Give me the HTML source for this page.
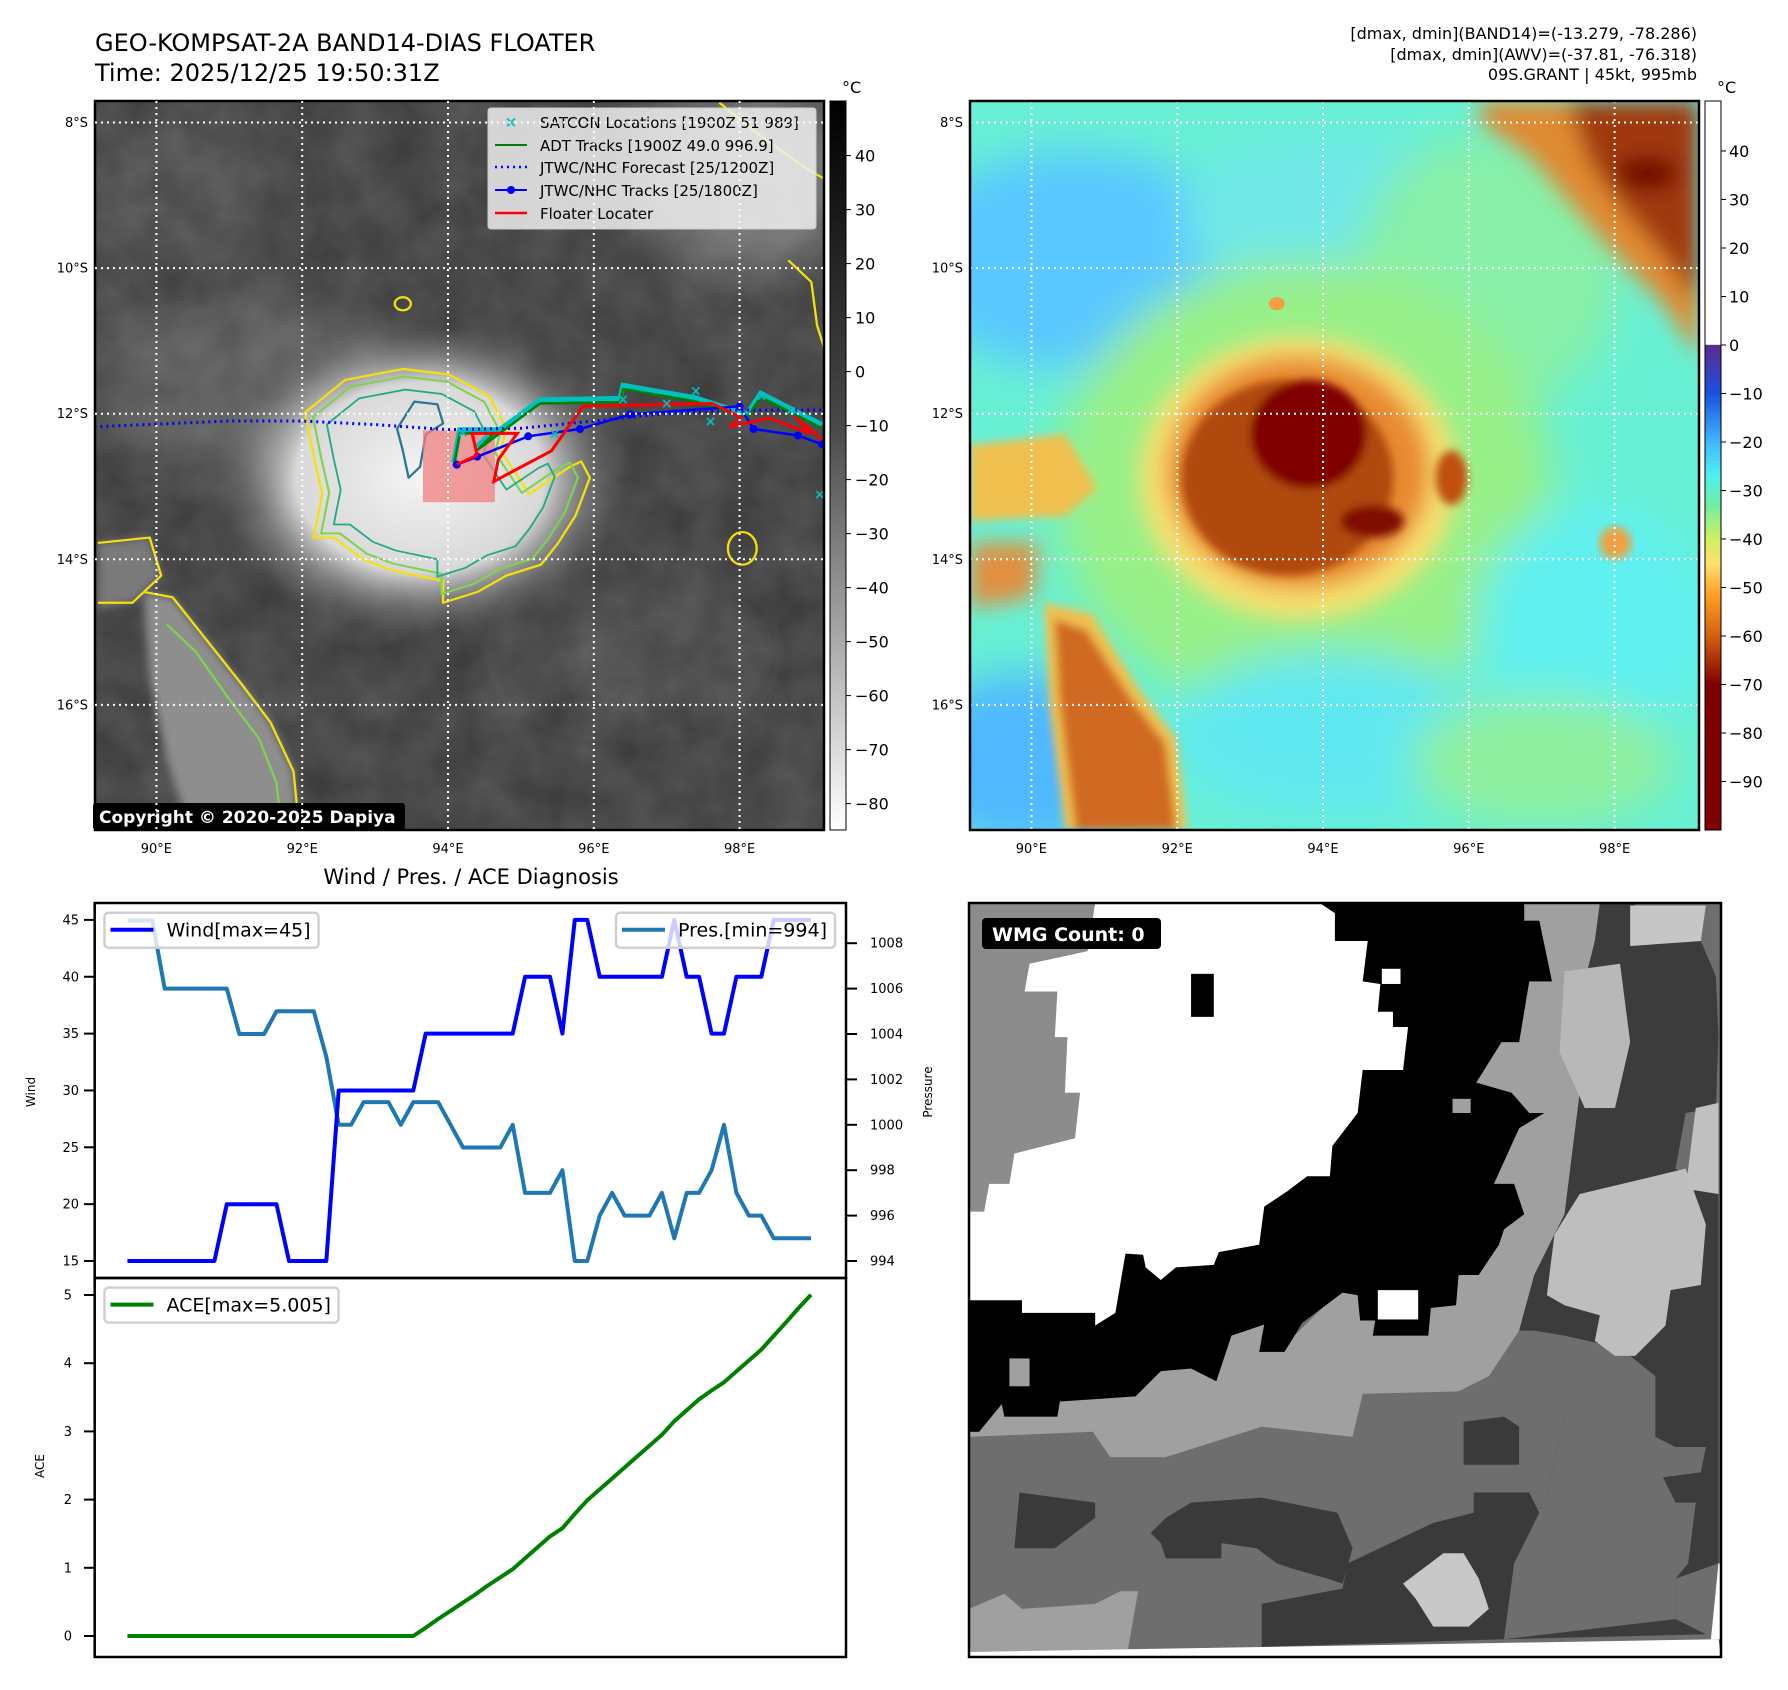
<!DOCTYPE html>
<html><head><meta charset="utf-8">
<style>
html,body{margin:0;padding:0;background:#fff;}
body{width:1788px;height:1690px;position:relative;overflow:hidden;font-family:"DejaVu Sans","Liberation Sans",sans-serif;}
.abs{position:absolute;}
</style></head>
<body>
<svg id="page" class="abs" style="left:0;top:0" width="1788" height="1690" viewBox="0 0 1788 1690" font-family="DejaVu Sans, Liberation Sans, sans-serif">
<defs>
  <filter id="b8"><feGaussianBlur stdDeviation="8"/></filter>
  <filter id="b20"><feGaussianBlur stdDeviation="20"/></filter>
  <filter id="b40"><feGaussianBlur stdDeviation="40"/></filter>
  <filter id="tex" x="0" y="0" width="100%" height="100%">
    <feTurbulence type="fractalNoise" baseFrequency="0.012" numOctaves="3" seed="4"/>
    <feColorMatrix type="matrix" values="0 0 0 0 1  0 0 0 0 1  0 0 0 0 1  0 0 0 0.35 -0.05"/>
  </filter>
  <linearGradient id="cbGray" x1="0" y1="0" x2="0" y2="1">
    <stop offset="0" stop-color="#000"/><stop offset="0.45" stop-color="#4a4a4a"/><stop offset="1" stop-color="#fff"/>
  </linearGradient>
  <linearGradient id="cbColor" x1="0" y1="0" x2="0" y2="1">
    <stop offset="0" stop-color="#fff"/><stop offset="0.334" stop-color="#fff"/>
    <stop offset="0.335" stop-color="#5b2a8e"/><stop offset="0.401" stop-color="#1a50e0"/>
    <stop offset="0.468" stop-color="#40b8ff"/><stop offset="0.515" stop-color="#50f0f0"/>
    <stop offset="0.555" stop-color="#70f0a0"/><stop offset="0.601" stop-color="#d0f060"/>
    <stop offset="0.635" stop-color="#ffe070"/><stop offset="0.681" stop-color="#ff9a20"/>
    <stop offset="0.735" stop-color="#d06010"/><stop offset="0.80" stop-color="#800000"/>
    <stop offset="1" stop-color="#800000"/>
  </linearGradient>
  <radialGradient id="stormGray" cx="0.5" cy="0.5" r="0.5">
    <stop offset="0" stop-color="#f4f4f4"/><stop offset="0.6" stop-color="#d8d8d8"/><stop offset="1" stop-color="#6a6a6a" stop-opacity="0"/>
  </radialGradient>
</defs>

<!-- Titles -->
<text x="95" y="51" font-size="24">GEO-KOMPSAT-2A BAND14-DIAS FLOATER</text>
<text x="95" y="81" font-size="24">Time: 2025/12/25 19:50:31Z</text>
<g font-size="16" text-anchor="end">
  <text x="1697" y="39">[dmax, dmin](BAND14)=(-13.279, -78.286)</text>
  <text x="1697" y="60">[dmax, dmin](AWV)=(-37.81, -76.318)</text>
  <text x="1697" y="80">09S.GRANT | 45kt, 995mb</text>
</g>

<!-- LEFT MAP -->
<svg x="95" y="101" width="729" height="729" viewBox="165 187 1267 1341" preserveAspectRatio="none">
  <rect x="165" y="187" width="1267" height="1341" fill="#3e3e3e"/>
  <g filter="url(#b40)">
    <ellipse cx="420" cy="700" rx="260" ry="160" fill="#585858"/>
    <ellipse cx="300" cy="350" rx="200" ry="120" fill="#4c4c4c"/>
    <ellipse cx="1300" cy="330" rx="180" ry="180" fill="#707070"/>
    <ellipse cx="1100" cy="1200" rx="200" ry="100" fill="#4a4a4a"/>
  </g>
  <rect x="165" y="187" width="1267" height="1341" filter="url(#tex)" opacity="0.5"/>
  <polygon filter="url(#b8)" fill="#8e8e8e" points="250,1090 300,1100 360,1180 420,1260 470,1330 510,1420 520,1528 330,1528 290,1400 260,1250"/>
  <polygon filter="url(#b8)" fill="#7a7a7a" points="170,1000 260,990 280,1060 230,1110 170,1120"/>
  <ellipse cx="730" cy="880" rx="360" ry="290" fill="url(#stormGray)"/>
  <g fill="none" stroke-width="4" stroke-linejoin="round">
    <polygon stroke="#f5e10a" points="530,760 600,700 700,680 780,690 850,730 880,790 870,830 920,910 990,860 1010,850 1025,880 1000,950 970,1000 940,1040 880,1060 830,1090 770,1110 770,1070 680,1050 630,1030 580,990 545,990 560,910 545,840"/>
    <polygon stroke="#7fd34e" transform="translate(730 880) scale(0.93) translate(-730 -880)" points="530,760 600,700 700,680 780,690 850,730 880,790 870,830 920,910 990,860 1010,850 1025,880 1000,950 970,1000 940,1040 880,1060 830,1090 770,1110 770,1070 680,1050 630,1030 580,990 545,990 560,910 545,840"/>
    <polygon stroke="#22a884" transform="translate(720 870) scale(0.8) translate(-720 -870)" points="530,760 600,700 700,680 780,690 850,730 880,790 870,830 920,910 990,860 1010,850 1025,880 1000,950 970,1000 940,1040 880,1060 830,1090 770,1110 770,1070 680,1050 630,1030 580,990 545,990 560,910 545,840"/>
    <polygon stroke="#2a788e" points="720,740 760,745 770,780 740,800 730,860 710,880 700,830 690,790"/>
    <polyline stroke="#f5e10a" points="250,1090 300,1100 360,1180 420,1260 470,1330 510,1420 520,1528"/>
    <polyline stroke="#7fd34e" points="290,1150 340,1200 400,1290 450,1360 480,1440 490,1528"/>
    <polyline stroke="#f5e10a" points="170,1110 230,1110 280,1060 260,990 170,1000"/>
    <polyline stroke="#f5e10a" points="1250,190 1320,250 1400,310 1432,330"/>
    <polyline stroke="#f5e10a" points="1370,480 1410,520 1420,600 1432,640"/>
    <ellipse stroke="#f5e10a" cx="1290" cy="1010" rx="25" ry="30"/>
    <ellipse stroke="#f5e10a" cx="700" cy="560" rx="14" ry="12"/>
  </g>
  <rect x="735" y="793" width="125" height="132" fill="#f08080" opacity="0.75"/>
</svg>
<svg id="leftOverlay" x="95" y="101" width="729" height="729" viewBox="95 101 729 729" overflow="hidden"></svg>
<rect x="95" y="101" width="729" height="729" fill="none" stroke="#000" stroke-width="2.5"/>

<!-- left map legend -->
<g font-size="15">
  <rect x="488" y="108" width="328" height="121" rx="3" fill="#eeeeee" fill-opacity="0.85" stroke="#cccccc"/>
  <text x="511" y="127" font-size="15" fill="#00bfbf" text-anchor="middle" font-weight="bold">×</text>
  <text x="540" y="128">SATCON Locations [1900Z 51 989]</text>
  <line x1="495" y1="145" x2="527" y2="145" stroke="#008000" stroke-width="2"/>
  <text x="540" y="151">ADT Tracks [1900Z 49.0 996.9]</text>
  <line x1="495" y1="167" x2="527" y2="167" stroke="#0000ff" stroke-width="2.5" stroke-dasharray="2,4"/>
  <text x="540" y="173">JTWC/NHC Forecast [25/1200Z]</text>
  <line x1="495" y1="190" x2="527" y2="190" stroke="#0000ff" stroke-width="2"/><circle cx="511" cy="190" r="4" fill="#0000ff"/>
  <text x="540" y="196">JTWC/NHC Tracks [25/1800Z]</text>
  <line x1="495" y1="213" x2="527" y2="213" stroke="#ff0000" stroke-width="2.5"/>
  <text x="540" y="219">Floater Locater</text>
</g>
<g>
  <rect x="93" y="803" width="312" height="27" rx="3" fill="#000"/>
  <text x="99" y="823" font-size="17" font-weight="bold" fill="#fff">Copyright © 2020-2025 Dapiya</text>
</g>
<rect x="830" y="101" width="16" height="729" fill="url(#cbGray)" stroke="#000" stroke-width="1"/>
<text x="842" y="93" font-size="16">°C</text>
<g id="cbLeftTicks" font-size="16"></g>

<!-- RIGHT MAP -->
<svg x="970" y="101" width="729" height="729" viewBox="20 187 1378 1341" preserveAspectRatio="none">
  <rect x="20" y="187" width="1378" height="1341" fill="#68f0d4"/>
  <g filter="url(#b40)">
    <ellipse cx="220" cy="480" rx="320" ry="200" fill="#58c8ff"/>
    <ellipse cx="120" cy="1400" rx="200" ry="160" fill="#50b8ff"/>
    <ellipse cx="700" cy="400" rx="280" ry="150" fill="#70e8e8"/>
    <ellipse cx="1000" cy="500" rx="250" ry="250" fill="#88f0a8"/>
    <ellipse cx="650" cy="900" rx="470" ry="420" fill="#98f088"/>
    <ellipse cx="1200" cy="1150" rx="220" ry="220" fill="#60f0f0"/>
    <ellipse cx="700" cy="1350" rx="300" ry="150" fill="#60e8f0"/>
    <ellipse cx="1100" cy="1400" rx="250" ry="120" fill="#90f0a0"/>
  </g>
  <g filter="url(#b20)">
    <ellipse cx="640" cy="880" rx="300" ry="260" fill="#f8e070"/>
    <ellipse cx="640" cy="870" rx="250" ry="215" fill="#e88a30"/>
  </g>
  <g filter="url(#b8)">
    <ellipse cx="620" cy="880" rx="200" ry="180" fill="#b04810"/>
    <ellipse cx="660" cy="800" rx="110" ry="100" fill="#800000"/>
    <ellipse cx="780" cy="960" rx="60" ry="30" fill="#801000"/>
    <ellipse cx="930" cy="880" rx="30" ry="50" fill="#c05010"/>
  </g>
  <g filter="url(#b20)">
    <polygon fill="#e08a30" points="980,187 1398,187 1398,660 1330,560 1240,470 1150,370 1080,290 990,230"/>
    <polygon fill="#a03808" points="1150,187 1398,187 1398,560 1330,470 1250,380 1190,300"/>
    <ellipse cx="1300" cy="320" rx="60" ry="30" fill="#700000"/>
    <polygon fill="#e09040" points="20,1000 150,1000 140,1100 20,1120"/>
  </g>
  <g filter="url(#b8)">
    <polygon fill="#f0c050" points="160,1110 250,1130 340,1270 410,1360 430,1528 200,1528 170,1300"/>
    <polygon fill="#d06a20" points="180,1140 240,1160 320,1280 390,1370 410,1528 220,1528 190,1300"/>
    <polygon fill="#f0c050" points="20,820 200,800 260,900 200,950 20,960"/>
  </g>
  <ellipse cx="1240" cy="1000" rx="30" ry="30" fill="#f0a040" filter="url(#b8)"/>
  <ellipse cx="600" cy="560" rx="15" ry="12" fill="#f0a040"/>
</svg>
<g id="rightGrid"></g>
<rect x="970" y="101" width="729" height="729" fill="none" stroke="#000" stroke-width="2.5"/>
<rect x="1705" y="101" width="16" height="729" fill="url(#cbColor)" stroke="#000" stroke-width="1"/>
<text x="1717" y="93" font-size="16">°C</text>
<g id="cbRightTicks" font-size="16"></g>

<!-- Diagnosis chart -->
<text x="471" y="884" font-size="21" text-anchor="middle">Wind / Pres. / ACE Diagnosis</text>
<g id="windChart"></g>
<g id="aceChart"></g>

<!-- WMG panel -->
<svg x="969" y="903" width="752" height="754" viewBox="20 25 1490 1490" preserveAspectRatio="none">
  <rect x="20" y="25" width="1490" height="1490" fill="#6e6e6e"/>
  <polygon fill="#8c8c8c" points="20,25 280,25 255,120 140,145 130,200 195,200 190,290 215,290 210,400 240,400 230,490 110,520 100,580 60,580 50,635 20,635"/>
  <polygon fill="#a0a0a0" points="20,1070 40,1070 85,1015 90,1040 195,1040 200,1010 350,1000 400,950 460,945 510,970 540,880 605,858 595,912 645,912 665,880 720,825 760,795 790,800 795,850 825,850 820,880 930,880 935,825 985,820 990,760 1030,760 1070,700 1080,670 1120,640 1100,580 1060,580 1110,470 1160,440 1130,440 1095,400 1025,380 1075,300 1110,300 1130,180 1175,180 1150,60 1120,60 1120,25 1270,25 1260,100 1240,180 1230,400 1200,640 1170,700 1140,760 1110,870 1050,960 990,990 800,995 780,1080 600,1060 410,1120 300,1120 265,1070 20,1080"/>
  <polygon fill="#000" points="715,25 1120,25 1120,60 1150,60 1175,180 1130,180 1110,300 1075,300 1025,380 1095,400 1130,440 1160,440 1110,470 1060,580 1100,580 1120,640 1080,670 1070,700 1030,760 990,760 985,820 935,825 930,880 820,880 825,850 795,850 790,800 760,795 720,825 680,855 665,880 645,912 595,912 605,858 540,880 510,970 460,945 400,950 350,1000 200,1010 195,1040 90,1040 85,1015 40,1070 20,1070 20,810"/>
  <polygon fill="#fff" points="270,25 715,25 745,45 745,100 810,100 800,180 835,185 830,240 860,240 860,270 890,270 880,355 800,355 790,440 740,505 735,565 690,565 650,595 605,625 595,700 515,715 505,740 430,745 400,770 370,745 365,720 330,718 310,835 270,860 270,835 125,835 125,810 20,810 20,635 50,635 60,580 100,580 110,520 230,490 240,400 210,400 215,290 190,290 195,200 130,200 140,145 255,120"/>
  <rect x="460" y="165" width="45" height="85" fill="#000"/>
  <rect x="838" y="155" width="37" height="30" fill="#fff"/>
  <rect x="830" y="790" width="80" height="58" fill="#fff"/>
  <rect x="978" y="412" width="36" height="28" fill="#a0a0a0"/>
  <rect x="100" y="925" width="40" height="55" fill="#a0a0a0"/>
  <polygon fill="#3c3c3c" points="1270,25 1340,25 1330,110 1470,100 1500,170 1505,285 1500,430 1440,440 1420,550 1505,600 1505,1330 1420,1360 1420,1440 1480,1470 1080,1480 1100,1220 1160,1220 1200,1040 1240,1010 1380,1010 1380,960 1330,920 1290,900 1200,880 1140,870 1110,870 1140,760 1170,700 1200,640 1230,400 1240,180 1260,100"/>
  <polygon fill="#6e6e6e" points="1160,1220 1200,1040 1240,1010 1380,1010 1380,1080 1420,1100 1480,1100 1470,1150 1395,1160 1420,1210 1460,1210 1445,1330 1420,1360 1420,1440 1080,1480 1100,1220"/>
  <polygon fill="#c6c6c6" points="1330,30 1480,30 1470,100 1330,110"/>
  <polygon fill="#bebebe" points="1230,600 1440,550 1480,660 1470,780 1410,790 1400,860 1340,920 1300,920 1260,890 1270,840 1200,820 1165,800 1180,680"/>
  <polygon fill="#b8b8b8" points="1200,160 1310,145 1330,300 1300,430 1240,430 1190,320"/>
  <polygon fill="#c0c0c0" points="1460,430 1505,420 1505,600 1440,590"/>
  <polygon fill="#3a3a3a" points="120,1190 270,1210 270,1240 230,1270 190,1300 110,1300"/>
  <polygon fill="#3a3a3a" points="380,1270 410,1240 460,1210 600,1200 750,1230 780,1300 760,1370 730,1360 660,1340 630,1330 590,1300 520,1290 520,1320 410,1320 400,1290"/>
  <polygon fill="#3a3a3a" points="600,1410 760,1380 770,1330 940,1250 1020,1230 1020,1190 1130,1190 1150,1230 1100,1330 1080,1480 600,1495"/>
  <polygon fill="#3a3a3a" points="1000,1050 1080,1040 1110,1060 1110,1135 1000,1135"/>
  <polygon fill="#a0a0a0" points="20,1420 90,1390 125,1420 270,1410 320,1385 355,1385 335,1500 20,1505"/>
  <polygon fill="#c8c8c8" points="880,1370 960,1310 1000,1310 1030,1360 1050,1420 1010,1455 940,1455 905,1400"/>
  <polygon fill="#fff" points="20,1505 1505,1480 1510,1515 20,1515"/>
  <polygon fill="#fff" points="1505,1330 1510,1330 1510,1480 1490,1480"/>
</svg>
<rect x="969" y="903" width="752" height="754" fill="none" stroke="#000" stroke-width="2.5"/>
<g>
  <rect x="982" y="918" width="179" height="31" rx="4" fill="#000"/>
  <text x="992" y="941" font-size="19" font-weight="bold" fill="#fff">WMG Count: 0</text>
</g>
</svg>

<script>
// ---------- Diagnosis chart data ----------
const wind = [15,15,15,15,15,15,15,15,20,20,20,20,20,15,15,15,15,30,30,30,30,30,30,30,35,35,35,35,35,35,35,35,40,40,40,35,45,45,40,40,40,40,40,40,45,40,40,35,35,40,40,40,45,45,45,45];
const pres = [1009,1009,1009,1006,1006,1006,1006,1006,1006,1004,1004,1004,1005,1005,1005,1005,1003,1000,1000,1001,1001,1001,1000,1001,1001,1001,1000,999,999,999,999,1000,997,997,997,998,994,994,996,997,996,996,996,997,995,997,997,998,1000,997,996,996,995,995,995,995];
const ace = [0,0,0,0,0,0,0,0,0,0,0,0,0,0,0,0,0,0,0,0,0,0,0,0,0.12,0.25,0.37,0.49,0.61,0.74,0.86,0.98,1.14,1.30,1.46,1.58,1.79,1.99,2.15,2.31,2.47,2.63,2.79,2.95,3.15,3.31,3.47,3.60,3.72,3.88,4.04,4.20,4.40,4.60,4.81,5.005];
const windTicks = [15,20,25,30,35,40,45];
const presTicks = [994,996,998,1000,1002,1004,1006,1008];
const aceTicks = [0,1,2,3,4,5];
const colorbarGrayTicks = [40,30,20,10,0,-10,-20,-30,-40,-50,-60,-70,-80];
const colorbarColorTicks = [40,30,20,10,0,-10,-20,-30,-40,-50,-60,-70,-80,-90];
const lonTicks = [90,92,94,96,98];
const latTicks = [8,10,12,14,16];
// ---------- Track data (lon E, lat S) ----------
const forecastLon = [89.15,91,92,93,94,95,96,97,98,99.15];
const forecastLat = [12.18,12.1,12.1,12.15,12.22,12.2,12.1,12.0,11.95,11.95];
const jtwcLon = [94.12,94.40,95.10,95.81,96.50,98.0,98.19,98.80,99.13];
const jtwcLat = [12.70,12.59,12.31,12.21,12.01,11.90,12.21,12.30,12.42];
const floaterLon = [94.12,94.40,94.33,94.95,94.69,94.63,95.42,95.85,97.15,97.62,98.02,97.86,98.41,98.96,98.76,99.13];
const floaterLat = [12.70,12.57,12.27,12.27,12.63,12.93,12.51,11.90,11.87,11.86,12.05,12.18,12.06,12.27,12.04,12.36];
const adtLon = [94.08,94.16,94.63,94.40,95.26,96.36,96.40,97.39,98.10,98.29,99.13];
const adtLat = [12.72,12.27,12.27,12.50,11.86,11.84,11.66,11.83,12.06,11.77,12.20];
const satconLon = [94.2,95.46,96.4,97.0,97.4,97.6,98.3,98.7,99.1];
const satconLat = [12.25,12.27,11.8,11.85,11.68,12.1,11.75,11.95,13.1];

const NS = 'http://www.w3.org/2000/svg';
function mk(parent, tag, attrs){ const e=document.createElementNS(NS,tag); for(const k in attrs) e.setAttribute(k,attrs[k]); parent.appendChild(e); return e; }

const X0=127.4, X1=811, AX_L=94.7, AX_R=846;
function xi(i){ return X0 + i*(X1-X0)/(wind.length-1); }
function yWind(w){ return 1261-(w-15)*11.37; }
function yPres(p){ return 1261-(p-994)*22.7; }
function yAce(a){ return 1636-a*68.2; }

const wc=document.getElementById('windChart');
let pts=pres.map((p,i)=>xi(i).toFixed(1)+','+yPres(p).toFixed(1)).join(' ');
let pl=mk(wc,'polyline',{points:pts,fill:'none',stroke:'#1f77b4','stroke-width':4,'stroke-linejoin':'round'});


pts=wind.map((w,i)=>xi(i).toFixed(1)+','+yWind(w).toFixed(1)).join(' ');
let wl=mk(wc,'polyline',{points:pts,fill:'none',stroke:'#0000ff','stroke-width':4,'stroke-linejoin':'round'});


let fr=mk(wc,'rect',{x:AX_L,y:903,width:AX_R-AX_L,height:375,fill:'none',stroke:'#000','stroke-width':2.5});


windTicks.forEach(t=>{
  const y=yWind(t);
  const l=mk(wc,'line',{x1:84,x2:AX_L,y1:y,y2:y,stroke:'#000','stroke-width':2});
  
  
  const tx=mk(wc,'text',{x:79,y:y+4.5,'font-size':13,'text-anchor':'end'}); tx.textContent=t;
  
  
});
presTicks.forEach(t=>{
  const y=yPres(t);
  const l=mk(wc,'line',{x1:AX_R,x2:857,y1:y,y2:y,stroke:'#000','stroke-width':2});
  
  
  const tx=mk(wc,'text',{x:870,y:y+4.5,'font-size':13}); tx.textContent=t;
  
  
});
let t1=mk(wc,'text',{x:0,y:0,'font-size':12,'text-anchor':'middle',transform:'translate(35 1092) rotate(-90)'}); t1.textContent='Wind';


let t2=mk(wc,'text',{x:0,y:0,'font-size':12,'text-anchor':'middle',transform:'translate(932 1092) rotate(-90)'}); t2.textContent='Pressure';


function legend(parent,x,w,y,color,label,name){
  const g=mk(parent,'g',{});
  
  
  mk(g,'rect',{x:x,y:y,width:w,height:35,rx:4,fill:'#fff','fill-opacity':0.8,stroke:'#d0d0d0','stroke-width':2.5});
  mk(g,'line',{x1:x+6,x2:x+49,y1:y+17,y2:y+17,stroke:color,'stroke-width':4});
  const t=mk(g,'text',{x:x+62,y:y+24,'font-size':19}); t.textContent=label;
}
legend(wc,104.5,214,912.7,'#0000ff','Wind[max=45]','wind-legend');
legend(wc,616,219,912.7,'#1f77b4','Pres.[min=994]','pressure-legend');

const ac=document.getElementById('aceChart');
pts=ace.map((a,i)=>xi(i).toFixed(1)+','+yAce(a).toFixed(1)).join(' ');
let al=mk(ac,'polyline',{points:pts,fill:'none',stroke:'#008000','stroke-width':4,'stroke-linejoin':'round'});


let af=mk(ac,'rect',{x:AX_L,y:1278,width:AX_R-AX_L,height:379,fill:'none',stroke:'#000','stroke-width':2.5});


aceTicks.forEach(t=>{
  const y=yAce(t);
  const l=mk(ac,'line',{x1:84,x2:AX_L,y1:y,y2:y,stroke:'#000','stroke-width':2});
  
  
  const tx=mk(ac,'text',{x:72,y:y+4.5,'font-size':13,'text-anchor':'end'}); tx.textContent=t;
  
  
});
let t3=mk(ac,'text',{x:0,y:0,'font-size':12,'text-anchor':'middle',transform:'translate(44 1466) rotate(-90)'}); t3.textContent='ACE';


legend(ac,104.5,234,1287.6,'#008000','ACE[max=5.005]','ace-legend');

function lonX(lon, left){ return left + 61.4 + (lon-90)*72.9; }
function latY(lat){ return 122.5 + (lat-8)*72.8; }
const page=document.getElementById('page');
function gridAndLabels(parent,left){
  lonTicks.forEach(lon=>{
    const x=lonX(lon,left);
    const l=mk(parent,'line',{x1:x,x2:x,y1:101,y2:830,stroke:'#fff','stroke-width':2,'stroke-dasharray':'2,4'});
    
    
    const t=mk(parent,'text',{x:x,y:853,'font-size':13,'text-anchor':'middle'}); t.textContent=lon+'°E';
    
    
  });
  latTicks.forEach(lat=>{
    const y=latY(lat);
    const l=mk(parent,'line',{x1:left,x2:left+729,y1:y,y2:y,stroke:'#fff','stroke-width':2,'stroke-dasharray':'2,4'});
    
    
    const t=mk(parent,'text',{x:left-7,y:y+4.5,'font-size':13,'text-anchor':'end'}); t.textContent=lat+'°S';
    
    
  });
}
const ov=document.getElementById('leftOverlay');
gridAndLabels(page,95);
gridAndLabels(document.getElementById('rightGrid'),970);
function lineFrom(lons,lats,attrs,name){
  const p=lons.map((lo,i)=>lonX(lo,95).toFixed(1)+','+latY(lats[i]).toFixed(1)).join(' ');
  const e=mk(ov,'polyline',Object.assign({points:p,fill:'none'},attrs));
  
  
  return e;
}
lineFrom(adtLon,adtLat.map(v=>v-0.05),{stroke:'#00c0c0','stroke-width':5},'satcon-band');
lineFrom(forecastLon,forecastLat,{stroke:'#0000ff','stroke-width':3,'stroke-dasharray':'2,4'},'forecast-track');
lineFrom(adtLon,adtLat,{stroke:'#008000','stroke-width':2.5},'adt-track');
lineFrom(jtwcLon,jtwcLat,{stroke:'#0000ff','stroke-width':2.5},'jtwc-track');
jtwcLon.forEach((lo,i)=>{
  const c=mk(ov,'circle',{cx:lonX(lo,95),cy:latY(jtwcLat[i]),r:4,fill:'#0000ff'});
  
  
});
lineFrom(floaterLon,floaterLat,{stroke:'#ff0000','stroke-width':3},'floater-track');
satconLon.forEach((lo,i)=>{
  const t=mk(ov,'text',{x:lonX(lo,95),y:latY(satconLat[i])+5,'font-size':14,'font-weight':'bold',fill:'#00c0c0','text-anchor':'middle'});
  t.textContent='×';
  
  
});
const cbl=document.getElementById('cbLeftTicks');
colorbarGrayTicks.forEach(v=>{
  const y=155.6+(40-v)*5.4;
  mk(cbl,'line',{x1:846,x2:851,y1:y,y2:y,stroke:'#000','stroke-width':1});
  const t=mk(cbl,'text',{x:855,y:y+6}); t.textContent=(v<0?'\u2212'+(-v):v);
  
  
});
const cbr=document.getElementById('cbRightTicks');
colorbarColorTicks.forEach(v=>{
  const y=151+(40-v)*4.85;
  mk(cbr,'line',{x1:1721,x2:1726,y1:y,y2:y,stroke:'#000','stroke-width':1});
  const t=mk(cbr,'text',{x:1729,y:y+6}); t.textContent=(v<0?'\u2212'+(-v):v);
  
  
});
</script>
</body></html>
